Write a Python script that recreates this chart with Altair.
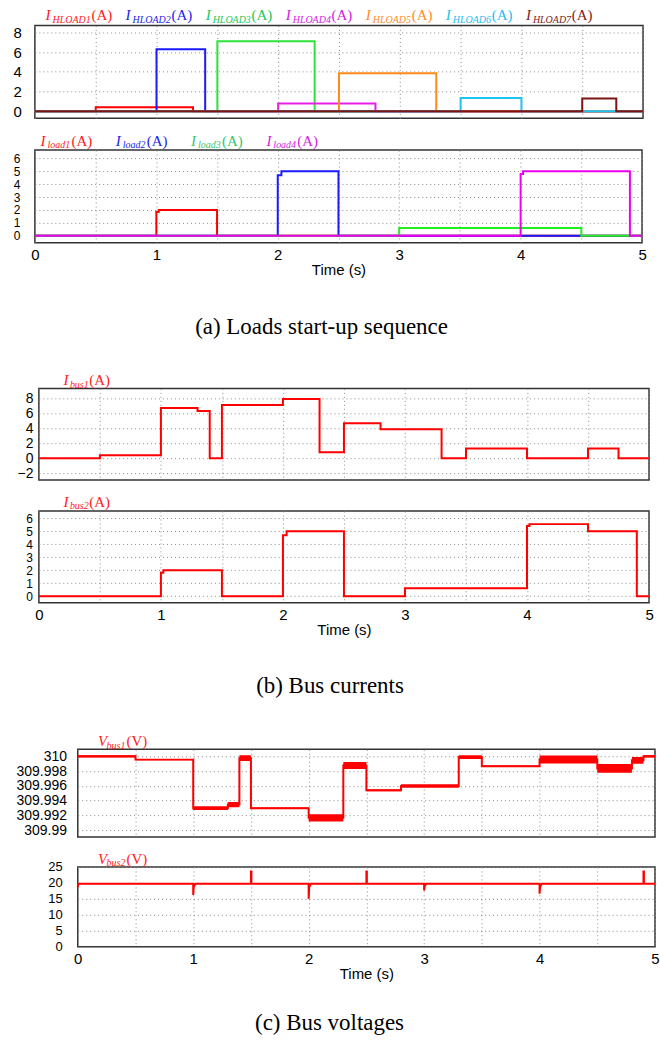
import altair as alt
import pandas as pd

# ---------------- data ----------------
# (a) upper: hybrid load currents, step-after breakpoints (time s, current A)
hload1_t = [0, 0.5, 1.3, 5.0]
hload1_i = [0, 0.4, 0, 0]
hload2_t = [0, 1.0, 1.4, 5.0]
hload2_i = [0, 6.3, 0, 0]
hload3_t = [0, 1.5, 2.3, 5.0]
hload3_i = [0, 7.1, 0, 0]
hload4_t = [0, 2.0, 2.8, 5.0]
hload4_i = [0, 0.8, 0, 0]
hload5_t = [0, 2.5, 3.3, 5.0]
hload5_i = [0, 3.85, 0, 0]
hload6_t = [0, 3.5, 4.0, 5.0]
hload6_i = [0, 1.35, 0, 0]
hload7_t = [0, 4.5, 4.78, 5.0]
hload7_i = [0, 1.3, 0, 0]

# (a) lower: DC load currents
load1_t = [0, 1.0, 1.02, 1.5, 5.0]
load1_i = [0, 1.85, 2.0, 0, 0]
load2_t = [0, 2.0, 2.03, 2.5, 5.0]
load2_i = [0, 4.7, 5.0, 0, 0]
load3_t = [0, 3.0, 4.5, 5.0]
load3_i = [0, 0.6, 0, 0]
load4_t = [0, 4.0, 4.02, 4.9, 5.0]
load4_i = [0, 4.8, 5.0, 0, 0]

# (b) bus currents
ibus1_t = [0, 0.5, 1.0, 1.3, 1.4, 1.5, 2.0, 2.3, 2.5, 2.8, 3.3, 3.5, 4.0, 4.5, 4.75, 5.0]
ibus1_i = [0, 0.4, 6.7, 6.3, 0, 7.1, 7.9, 0.8, 4.65, 3.85, 0, 1.3, 0, 1.3, 0, 0]
ibus2_t = [0, 1.0, 1.02, 1.5, 2.0, 2.03, 2.5, 3.0, 4.0, 4.02, 4.5, 4.9, 5.0]
ibus2_i = [0, 1.8, 2.0, 0, 4.7, 5.0, 0, 0.6, 5.4, 5.55, 5.0, 0, 0]

# (c) bus voltages: Vbus1 level per interval and its ripple half-width
vbus1_t = [0, 0.5, 1.0, 1.3, 1.4, 1.5, 2.0, 2.3, 2.5, 2.8, 3.3, 3.5, 4.0, 4.5, 4.8, 4.9, 5.0]
vbus1_v = [310.0, 309.99955, 309.99297, 309.99345, 309.99975, 309.99295, 309.99165,
           309.99875, 309.99538, 309.99597, 309.99989, 309.99864, 309.99957, 309.99836,
           309.99945, 310.0, 310.0]
vbus1_ripple = [0.00015, 0.0001, 0.00025, 0.00035, 0.0004, 0.0001, 0.0005, 0.00048,
                0.00012, 0.00025, 0.00025, 0.0001, 0.00055, 0.0006, 0.00045, 0.00015, 0.00015]
vbus2_t = [0, 0.004, 1.0, 1.0, 1.005, 1.02, 1.5, 1.5, 1.504, 1.504, 2.0, 2.0, 2.005, 2.02,
           2.5, 2.5, 2.504, 2.504, 3.0, 3.0, 3.005, 3.02, 4.0, 4.0, 4.005, 4.02,
           4.9, 4.9, 4.904, 4.904, 5.0]
vbus2_v = [18.6, 19.7, 19.7, 16.2, 18.9, 19.7, 19.7, 23.6, 23.6, 19.7, 19.7, 15.0, 18.7, 19.7,
           19.7, 23.6, 23.6, 19.7, 19.7, 17.6, 19.1, 19.7, 19.7, 16.6, 18.8, 19.7,
           19.7, 23.6, 23.6, 19.7, 19.7]

hload_names = ["HLOAD1", "HLOAD2", "HLOAD3", "HLOAD4", "HLOAD5", "HLOAD6", "HLOAD7"]
load_names = ["load1", "load2", "load3", "load4"]

# ---------------- styling ----------------
SANS = "Liberation Sans"
SERIF = "Liberation Serif"
GRID = "#8a8a8a"
HALF_SECONDS = [k * 0.5 for k in range(11)]
CAPTION_SIZE = 23

hload_line = ["#ff0000", "#1a1aff", "#2ee23c", "#e81ee8", "#ff8a1c", "#1ec3f2", "#7e1414"]
hload_text = ["#ff1a1a", "#2222ee", "#22c85a", "#d21ee0", "#ff8c2a", "#1fbdf0", "#7e2020"]
load_line = ["#ff0000", "#1a1aff", "#22ee22", "#ee00ee"]
load_text = ["#ff1a1a", "#2222ee", "#30c870", "#d21ee0"]
RED = "#ff0000"

ONE = pd.DataFrame({"k": [0]})


def x_enc(show_labels):
    common = dict(values=HALF_SECONDS, grid=True, gridDash=[1, 3], gridColor=GRID,
                  ticks=False, domain=False)
    if show_labels:
        axis = alt.Axis(title="Time (s)", labels=True,
                        labelExpr="datum.value % 1 === 0 ? format(datum.value, 'd') : ''",
                        labelFont=SANS, labelFontSize=15, labelColor="black", labelPadding=5,
                        labelFlush=False, labelOverlap=False,
                        titleFont=SANS, titleFontSize=15, titleFontWeight="normal",
                        titleColor="black", titlePadding=0, **common)
    else:
        axis = alt.Axis(title=None, labels=False, **common)
    return alt.X("t:Q", scale=alt.Scale(domain=[0, 5], nice=False, zero=False), axis=axis)


def y_axis(ticks, pad, fmt=None, size=15):
    kw = dict(values=ticks, title=None, ticks=False, domain=False, grid=True,
              gridDash=[1, 3], gridColor=GRID, labelFont=SANS, labelFontSize=size,
              labelColor="black", labelPadding=pad, labelOverlap=False, labelFlush=False)
    if fmt:
        kw["format"] = fmt
    return alt.Axis(**kw)


def header(items, x0, step, base, sub_dx, unit_dx):
    """Coloured series names written above a panel: symbol, subscript, unit."""
    out = []
    for i, (sym, sub, unit, color) in enumerate(items):
        x = x0 + i * step
        out.append(alt.Chart(ONE).mark_text(
            text=sym, font=SERIF, fontSize=15, fontStyle="italic", color=color,
            align="left", baseline="alphabetic").encode(x=alt.value(x), y=alt.value(base)))
        out.append(alt.Chart(ONE).mark_text(
            text=sub, font=SERIF, fontSize=10, fontStyle="italic", color=color,
            align="left", baseline="alphabetic").encode(x=alt.value(x + sub_dx), y=alt.value(base + 2.5)))
        out.append(alt.Chart(ONE).mark_text(
            text=unit, font=SERIF, fontSize=15, color=color,
            align="left", baseline="alphabetic").encode(x=alt.value(x + unit_dx), y=alt.value(base)))
    return out


def panel(series, width, height, ydom, yticks, ypad, show_x, heads, fmt=None,
          ysize=15, interp="step-after", band=None, caption=None, cap_dx=0, cap_off=0):
    x = x_enc(show_x)
    yscale = alt.Scale(domain=ydom, nice=False, zero=False)
    axis = y_axis(yticks, ypad, fmt, ysize)
    layers = []
    if band is not None:
        layers.append(alt.Chart(band).mark_area(interpolate="step-after", color=RED).encode(
            x=x, y=alt.Y("lo:Q", scale=yscale, axis=axis), y2="hi:Q"))
    for df, color in series:
        layers.append(alt.Chart(df).mark_line(interpolate=interp, color=color, strokeWidth=2).encode(
            x=x, y=alt.Y("v:Q", scale=yscale, axis=axis)))
    ch = alt.layer(*layers, *heads).properties(width=width, height=height)
    if caption:
        ch = ch.properties(title=alt.TitleParams(
            caption, orient="bottom", anchor="middle", font=SERIF, fontSize=CAPTION_SIZE,
            fontWeight="normal", color="black", offset=cap_off, dx=cap_dx))
    return ch


def df_of(t, v):
    return pd.DataFrame({"t": t, "v": v})


def spacer(w, h):
    return alt.Chart(ONE).mark_rule(strokeOpacity=0).encode(
        x=alt.value(1), y=alt.value(1), y2=alt.value(2)
    ).properties(width=w, height=h, view=alt.ViewBackground(stroke="transparent"))


def shifted(ch, dx, h):
    return alt.hconcat(spacer(dx, h), ch, spacing=0, bounds="flush")


# ---------------- panels ----------------
hl_series = [(df_of(t, v), c) for t, v, c in zip(
    [hload1_t, hload2_t, hload3_t, hload4_t, hload5_t, hload6_t, hload7_t],
    [hload1_i, hload2_i, hload3_i, hload4_i, hload5_i, hload6_i, hload7_i], hload_line)]
p1 = panel(hl_series, 610, 93, [-0.7, 8.7], [0, 2, 4, 6, 8], 13.6, False,
           header([("I", n, "(A)", c) for n, c in zip(hload_names, hload_text)],
                  10.7, 80.3, -5.4, 7, 46))

ld_series = [(df_of(t, v), c) for t, v, c in zip(
    [load1_t, load2_t, load3_t, load4_t], [load1_i, load2_i, load3_i, load4_i], load_line)]
p2 = panel(ld_series, 609, 93, [-0.55, 6.65], [0, 1, 2, 3, 4, 5, 6], 15, True,
           header([("I", n, "(A)", c) for n, c in zip(load_names, load_text)],
                  5.7, 75.5, -4.2, 7, 31),
           ysize=12, caption="(a) Loads start-up sequence", cap_dx=-17, cap_off=38)

p3 = panel([(df_of(ibus1_t, ibus1_i), RED)], 612, 92, [-2.9, 9.3], [-2, 0, 2, 4, 6, 8], 6, False,
           header([("I", "bus1", "(A)", "#ff1a1a")], 24.6, 0, -3.3, 6.5, 26),
           ysize=14)
p4 = panel([(df_of(ibus2_t, ibus2_i), RED)], 612, 92, [-0.51, 6.56], [0, 1, 2, 3, 4, 5, 6], 6.5, True,
           header([("I", "bus2", "(A)", "#ff1a1a")], 24.6, 0, -4.2, 6.5, 26),
           ysize=12, caption="(b) Bus currents", cap_dx=-14, cap_off=38)

band = pd.DataFrame({"t": vbus1_t,
                     "lo": [v - r for v, r in zip(vbus1_v, vbus1_ripple)],
                     "hi": [v + r for v, r in zip(vbus1_v, vbus1_ripple)]})
p5 = panel([(df_of(vbus1_t, vbus1_v), RED)], 579, 88, [309.98905, 310.00095],
           [309.99, 309.992, 309.994, 309.996, 309.998, 310.0], 11.3, False,
           header([("V", "bus1", "(V)", "#ff1a1a")], 20.4, 0, -3, 8.5, 28.5),
           fmt=".3~f", band=band, ysize=14)
p6 = panel([(df_of(vbus2_t, vbus2_v), RED)], 579, 80, [0, 25], [0, 5, 10, 15, 20, 25], 15.6, True,
           header([("V", "bus2", "(V)", "#ff1a1a")], 20.4, 0, -3, 8.5, 28.5),
           interp="linear", caption="(c) Bus voltages", cap_dx=-37, cap_off=31, ysize=13)

chart = alt.vconcat(
    p1, p2, spacer(2, 4),
    shifted(p3, 4, 92), shifted(p4, 4, 92), spacer(2, 6),
    shifted(p5, 43, 88), shifted(p6, 43, 80),
    spacing=13,
).configure_view(stroke="#333333", strokeWidth=1.5).properties(
    padding={"left": 12, "top": 5, "right": 0, "bottom": 0},
    background="white",
)

chart.save("out.html", embed_options={"renderer": "svg", "actions": False})
